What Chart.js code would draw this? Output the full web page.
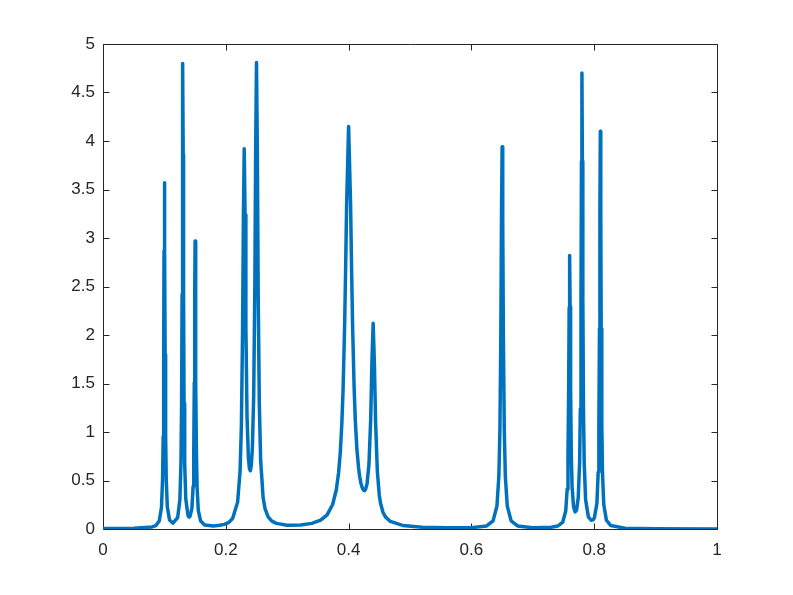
<!DOCTYPE html>
<html>
<head>
<meta charset="utf-8">
<script src="https://cdn.jsdelivr.net/npm/chart.js@4.4.0/dist/chart.umd.min.js"></script>
<style>
  html, body { margin: 0; padding: 0; background: #ffffff; }
  #wrap { width: 793px; height: 595px; }
</style>
</head>
<body>
<div id="wrap"><canvas id="c" width="793" height="595"></canvas></div>
<script>
// Signal samples
const signalX = [
  0, 0.05, 0.08, 0.086, 0.0916, 0.0952, 0.097, 0.098, 0.0988, 0.0994,
  0.1, 0.1006, 0.1012, 0.102, 0.103, 0.1048, 0.1084, 0.114,
  0.1216, 0.1252, 0.127, 0.128, 0.1288, 0.1294, 0.13, 0.1306, 0.1312, 0.132, 0.133, 0.1348, 0.1384,
  0.14, 0.1416, 0.1448, 0.14675, 0.1478, 0.1487, 0.14935, 0.15, 0.15065, 0.1513, 0.1522, 0.15325, 0.1552, 0.1591, 0.1656,
  0.18, 0.19, 0.1976, 0.205, 0.2111, 0.2192, 0.22325, 0.2254, 0.2273, 0.22865, 0.23, 0.23135, 0.2327, 0.2346, 0.23675,
  0.2385, 0.24, 0.2415, 0.24325, 0.2454, 0.2473, 0.24865, 0.25, 0.25135, 0.2527, 0.2546, 0.25675, 0.2608, 0.264, 0.2689, 0.275, 0.2824,
  0.30, 0.322, 0.34, 0.3545, 0.365, 0.374, 0.38, 0.38375, 0.3865, 0.389, 0.391, 0.3935, 0.395, 0.39675,
  0.4, 0.40325, 0.405, 0.4065, 0.409, 0.411, 0.4135, 0.41625, 0.418, 0.42, 0.422, 0.424, 0.426, 0.4275, 0.43, 0.4332, 0.436, 0.438,
  0.44, 0.442, 0.444, 0.4468, 0.45, 0.452, 0.456, 0.46, 0.468, 0.488, 0.52, 0.56, 0.60,
  0.6248, 0.6353, 0.6416, 0.64475, 0.64643, 0.6479, 0.64895, 0.65, 0.65105, 0.6521, 0.65357, 0.65525, 0.6584, 0.6647, 0.6752,
  0.70, 0.73, 0.7408, 0.7488, 0.7536, 0.756, 0.7573, 0.7584, 0.7592, 0.76, 0.7608, 0.7616, 0.7627, 0.764, 0.7664, 0.769, 0.7712,
  0.774, 0.77625, 0.77745, 0.7785, 0.77925, 0.78, 0.78075, 0.7815, 0.78255, 0.78375, 0.786, 0.7905, 0.795, 0.798,
  0.8002, 0.8044, 0.8065, 0.80762, 0.8086, 0.8093, 0.81, 0.8107, 0.8114, 0.81238, 0.8135, 0.8156, 0.8198, 0.8268,
  0.85, 0.9, 1.0
];
const signalY = [
  0.004, 0.007, 0.021, 0.035, 0.082, 0.221, 0.506, 0.957, 1.80, 2.87,
  3.57, 2.87, 1.80, 0.959, 0.509, 0.227, 0.093, 0.061,
  0.117, 0.302, 0.682, 1.29, 2.42, 3.86, 4.80, 3.86, 2.44, 1.295, 0.687, 0.312, 0.14,
  0.124, 0.127, 0.212, 0.44, 0.79, 1.51, 2.40, 2.97, 2.40, 1.505, 0.782, 0.428, 0.191, 0.082, 0.042,
  0.032, 0.038, 0.048, 0.068, 0.109, 0.275, 0.596, 1.07, 2.03, 3.21, 3.92, 3.24, 2.08, 1.155, 0.74,
  0.62, 0.60, 0.656, 0.83, 1.36, 2.51, 3.93, 4.81, 3.91, 2.47, 1.29, 0.71, 0.322, 0.207, 0.125, 0.081, 0.058,
  0.039, 0.041, 0.058, 0.091, 0.146, 0.253, 0.405, 0.583, 0.79, 1.088, 1.435, 2.09, 2.62, 3.335,
  4.15, 3.345, 2.63, 2.10, 1.456, 1.11, 0.825, 0.63, 0.543, 0.475, 0.43, 0.402, 0.396, 0.407, 0.463, 0.67, 1.136, 1.726,
  2.12, 1.705, 1.094, 0.596, 0.346, 0.265, 0.173, 0.125, 0.078, 0.037, 0.018, 0.012, 0.013,
  0.032, 0.084, 0.237, 0.548, 1.018, 1.975, 3.157, 3.94, 3.157, 1.975, 1.018, 0.548, 0.237, 0.084, 0.032,
  0.013, 0.018, 0.031, 0.072, 0.185, 0.411, 0.75, 1.436, 2.28, 2.82, 2.29, 1.445, 0.764, 0.434, 0.227, 0.177, 0.194,
  0.322, 0.685, 1.24, 2.38, 3.79, 4.70, 3.79, 2.375, 1.233, 0.675, 0.303, 0.125, 0.09, 0.094,
  0.114, 0.264, 0.586, 1.072, 2.067, 3.30, 4.10, 3.295, 2.065, 1.067, 0.578, 0.252, 0.092, 0.036,
  0.0085, 0.003, 0.001
];
const xTickValues = [0, 0.2, 0.4, 0.6, 0.8, 1];
const xTickLabels = ["0", "0.2", "0.4", "0.6", "0.8", "1"];
const yTickValues = [0, 0.5, 1, 1.5, 2, 2.5, 3, 3.5, 4, 4.5, 5];
const yTickLabels = ["0", "0.5", "1", "1.5", "2", "2.5", "3", "3.5", "4", "4.5", "5"];

const points = signalX.map((x, i) => ({ x: x, y: signalY[i] }));
const AXIS_COLOR = '#262626';
const FONT = { family: "'Liberation Sans', Arial, Helvetica, sans-serif", size: 17 };

const boxPlugin = {
  id: 'matlabBox',
  beforeDatasetsDraw(chart) {
    const { ctx, chartArea: a, scales } = chart;
    const xs = scales.x, ys = scales.y;
    const L = Math.round(a.left) + 0.5, R = Math.round(a.right) + 0.5;
    const T = Math.round(a.top) + 0.5, B = Math.round(a.bottom) + 0.5;
    ctx.save();
    ctx.strokeStyle = AXIS_COLOR;
    ctx.lineWidth = 1;
    ctx.beginPath();
    ctx.rect(L, T, R - L, B - T);
    const tl = 6;
    xTickValues.forEach(v => {
      const px = Math.round(xs.getPixelForValue(v)) + 0.5;
      ctx.moveTo(px, B); ctx.lineTo(px, B - tl);
      ctx.moveTo(px, T); ctx.lineTo(px, T + tl);
    });
    yTickValues.forEach(v => {
      const py = Math.round(ys.getPixelForValue(v)) + 0.5;
      ctx.moveTo(L, py); ctx.lineTo(L + tl, py);
      ctx.moveTo(R, py); ctx.lineTo(R - tl, py);
    });
    ctx.stroke();
    ctx.restore();
  }
};

new Chart(document.getElementById('c'), {
  type: 'scatter',
  data: {
    datasets: [{
      data: points,
      showLine: true,
      borderColor: '#0072BD',
      backgroundColor: '#0072BD',
      borderWidth: 3.5,
      borderJoinStyle: 'round',
      borderCapStyle: 'round',
      pointRadius: 0,
      pointHoverRadius: 0,
      tension: 0,
      fill: false
    }]
  },
  options: {
    responsive: false,
    animation: false,
    events: [],
    layout: { padding: { left: 0, top: 44, right: 76, bottom: 0 } },
    plugins: { legend: { display: false }, tooltip: { enabled: false }, title: { display: false } },
    scales: {
      x: {
        type: 'linear',
        min: 0, max: 1,
        border: { display: false },
        grid: { display: false, drawTicks: false },
        afterFit(s) { s.height = 66; },
        afterBuildTicks(s) { s.ticks = xTickValues.map(v => ({ value: v })); },
        ticks: {
          color: AXIS_COLOR, font: FONT, padding: 11, maxRotation: 0, autoSkip: false,
          callback: (v) => { const i = xTickValues.indexOf(v); return i >= 0 ? xTickLabels[i] : ''; }
        }
      },
      y: {
        type: 'linear',
        min: 0, max: 5,
        border: { display: false },
        grid: { display: false, drawTicks: false },
        afterFit(s) { s.width = 103; },
        afterBuildTicks(s) { s.ticks = yTickValues.map(v => ({ value: v })); },
        ticks: {
          color: AXIS_COLOR, font: FONT, padding: 8, autoSkip: false,
          callback: (v) => { const i = yTickValues.indexOf(v); return i >= 0 ? yTickLabels[i] : ''; }
        }
      }
    }
  },
  plugins: [boxPlugin]
});
</script>
</body>
</html>
